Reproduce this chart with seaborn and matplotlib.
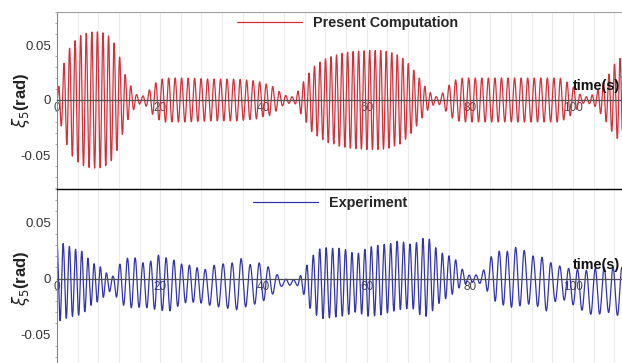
import numpy as np
import pandas as pd
import matplotlib
matplotlib.use("Agg")
import matplotlib.pyplot as plt
import seaborn as sns

# ---- values ----
# present computation: symmetric envelope of the roll signal
comp_t = [0, 0.4, 1.5, 2.6, 3.7, 4.7, 5.8, 6.9, 8.0, 9.0, 10.1, 11.2, 12.3, 13.3, 14.4,
          15.4, 16.4, 17.4, 18.5, 19.7, 21, 25, 30, 35, 39, 40, 41.3, 42.5, 43.8, 45,
          46.1, 47.4, 48.4, 49.4, 50.5, 51.5, 52.6, 53.7, 54.7, 57, 60, 63, 64.2, 65.4,
          66.5, 67.5, 68.5, 69.5, 70.5, 71.5, 72.5, 73.5, 74.5, 75.5, 76.5, 77.5, 79,
          90, 97.5, 98.6, 99.9, 100.8, 101.8, 103, 104.3, 105.6, 106.9, 107.9, 108.8, 109.5]
comp_amp = [0, 0.016, 0.036, 0.049, 0.055, 0.059, 0.061, 0.062, 0.062, 0.061, 0.058, 0.051,
            0.037, 0.022, 0.012, 0.005, 0.003, 0.006, 0.013, 0.018, 0.02, 0.02, 0.019, 0.019,
            0.017, 0.015, 0.014, 0.010, 0.005, 0.003, 0.003, 0.014, 0.021, 0.029, 0.033,
            0.036, 0.039, 0.040, 0.042, 0.044, 0.045, 0.045, 0.044, 0.042, 0.040, 0.036,
            0.031, 0.025, 0.018, 0.011, 0.006, 0.003, 0.005, 0.011, 0.016, 0.019, 0.02,
            0.02, 0.02, 0.017, 0.013, 0.008, 0.003, 0.003, 0.006, 0.014, 0.023, 0.032,
            0.036, 0.04]
comp_period_t = [0, 14, 17, 44, 47, 72, 75, 101, 104, 110]
comp_period = [1.08, 1.08, 1.25, 1.27, 1.07, 1.07, 1.27, 1.27, 1.08, 1.08]

# experiment: upper / lower envelope of the roll signal
exp_t = [0, 1.5, 3, 5, 6.2, 7.4, 8.6, 9.7, 10.9, 12, 13.4, 15, 16.5, 18, 19.7, 21.5, 23,
         24.5, 26, 27.5, 29, 30.5, 32, 34, 35.6, 37.4, 39.2, 40.8, 42.3, 43.5, 45, 46.5,
         47.6, 48.9, 50.3, 51.6, 53, 55, 56.6, 57.9, 59.2, 60.5, 62.5, 64.5, 66.3, 67.5,
         69, 70.5, 71.5, 72.6, 73.6, 74.9, 76.2, 77.5, 78.6, 79.7, 81, 82.3, 83.5, 84.8,
         86.1, 87.7, 89.3, 90.9, 92.7, 94.5, 96, 97.6, 99.2, 101.2, 103.1, 105, 106.6,
         108.2, 109.5]
exp_up = [0.032, 0.031, 0.027, 0.024, 0.017, 0.0125, 0.010, 0.0045, 0.002, 0.012, 0.018,
          0.019, 0.014, 0.015, 0.021, 0.018, 0.016, 0.012, 0.012, 0.009, 0.008, 0.012,
          0.013, 0.014, 0.018, 0.0125, 0.014, 0.011, 0.005, 0.0, -0.001, -0.001, 0.005,
          0.016, 0.025, 0.028, 0.027, 0.027, 0.025, 0.021, 0.025, 0.028, 0.030, 0.031,
          0.034, 0.032, 0.030, 0.035, 0.037, 0.034, 0.026, 0.022, 0.020, 0.016, 0.008,
          0.003, 0.003, 0.004, 0.016, 0.023, 0.025, 0.024, 0.029, 0.024, 0.019, 0.019,
          0.013, 0.011, 0.009, 0.008, 0.007, 0.010, 0.010, 0.010, 0.010]
exp_lo = [-0.039, -0.036, -0.034, -0.032, -0.025, -0.022, -0.019, -0.013, -0.010, -0.022,
          -0.025, -0.027, -0.025, -0.027, -0.028, -0.030, -0.026, -0.022, -0.021, -0.022,
          -0.022, -0.027, -0.024, -0.029, -0.027, -0.024, -0.022, -0.018, -0.012, -0.007,
          -0.006, -0.006, -0.012, -0.026, -0.033, -0.036, -0.035, -0.034, -0.032, -0.030,
          -0.032, -0.034, -0.033, -0.030, -0.028, -0.027, -0.027, -0.033, -0.034, -0.030,
          -0.024, -0.019, -0.016, -0.010, -0.006, -0.004, -0.003, -0.005, -0.012, -0.020,
          -0.023, -0.026, -0.025, -0.023, -0.023, -0.031, -0.022, -0.018, -0.021, -0.027,
          -0.032, -0.032, -0.030, -0.032, -0.035]
exp_period_t = [0, 10, 13, 27, 30, 43, 47, 73, 76, 80, 84, 88, 91, 110]
exp_period = [1.2, 1.2, 1.5, 1.5, 1.75, 1.75, 1.25, 1.25, 1.3, 1.3, 1.55, 1.6, 1.72, 1.72]

x_major = [0, 20, 40, 60, 80, 100]
y_major = [-0.05, 0, 0.05]
y_labels = ["-0.05", "0", "0.05"]

# ---- build the time series from envelope + carrier ----
t = np.arange(0, 109.6, 0.02)
dt = np.diff(t, prepend=0)

ph_c = 2 * np.pi * np.cumsum(dt / np.interp(t, comp_period_t, comp_period))
comp = np.interp(t, comp_t, comp_amp) * np.sin(ph_c)

ph_e = 2 * np.pi * np.cumsum(dt / np.interp(t, exp_period_t, exp_period))
up = np.interp(t, exp_t, exp_up)
lo = np.interp(t, exp_t, exp_lo)
expm = 0.5 * (up + lo) + 0.5 * (up - lo) * np.cos(ph_e)

df_c = pd.DataFrame({"time": t, "roll": comp})
df_e = pd.DataFrame({"time": t, "roll": expm})

sns.set_theme(style="white")
plt.rcParams["font.family"] = ["Liberation Sans", "DejaVu Sans"]

W, H = 622, 363
fig = plt.figure(figsize=(W / 100, H / 100), dpi=100)
ax1 = fig.add_axes([57 / W, 1 - 188 / H, 565 / W, 176 / H])
ax2 = fig.add_axes([57 / W, 1 - 368 / H, 565 / W, 179 / H])

sns.lineplot(data=df_c, x="time", y="roll", ax=ax1, color="#d3303a", linewidth=0.9,
             estimator=None, sort=False, label="Present Computation")
sns.lineplot(data=df_e, x="time", y="roll", ax=ax2, color="#3434aa", linewidth=0.9,
             estimator=None, sort=False, label="Experiment")

legend_pos = {ax1: (237, 23.3), ax2: (253, 203.3)}

for ax in (ax1, ax2):
    ax.set_xlim(0, 109.5)
    ax.set_ylim(-0.08, 0.08)
    ax.set_xticks(x_major)
    ax.set_xticks(np.arange(0, 110, 4), minor=True)
    ax.set_yticks(y_major)
    ax.set_yticklabels(y_labels)
    ax.set_yticks(np.arange(-0.08, 0.081, 0.01), minor=True)
    ax.grid(True, axis="x", which="both", color="#ececec", linewidth=0.8)
    ax.set_axisbelow(True)

    ax.spines["bottom"].set_position(("data", 0))
    ax.spines["bottom"].set_color("#505050")
    ax.spines["bottom"].set_linewidth(0.9)
    ax.spines["right"].set_visible(False)
    ax.spines["left"].set_color("#8a8a8a")
    ax.spines["left"].set_linewidth(0.8)

    ax.tick_params(axis="x", which="both", length=0, pad=1.5, labelsize=8.5,
                   labelcolor="#444444")
    ax.tick_params(axis="y", which="major", direction="out", length=2.5, width=0.7,
                   color="#8a8a8a", pad=1.8, labelsize=9.5, labelcolor="#333333")
    ax.tick_params(axis="y", which="minor", direction="out", length=1.6, width=0.6,
                   color="#9a9a9a", left=True)

    ax.set_xlabel("")
    ax.set_ylabel(r"$\xi_5$(rad)", fontsize=12, fontweight="bold", color="#222222")
    ax.yaxis.set_label_coords(-0.044, 0.5)

    ax.text(100, 0.0087, "time(s)", fontsize=10.4, fontweight="bold", va="baseline",
            ha="left", color="#111111")

    lx, ly = legend_pos[ax]
    ax.legend(loc="center left", bbox_to_anchor=(lx / W, 1 - ly / H),
              bbox_transform=fig.transFigure, frameon=False, handlelength=4.5,
              handletextpad=0.76, borderpad=0, borderaxespad=0,
              prop={"weight": "bold", "size": 10.4})

ax1.spines["top"].set_color("#a0a0a0")
ax1.spines["top"].set_linewidth(0.8)
ax2.spines["top"].set_color("black")
ax2.spines["top"].set_linewidth(1.0)

fig.savefig("out.png", dpi=100)
